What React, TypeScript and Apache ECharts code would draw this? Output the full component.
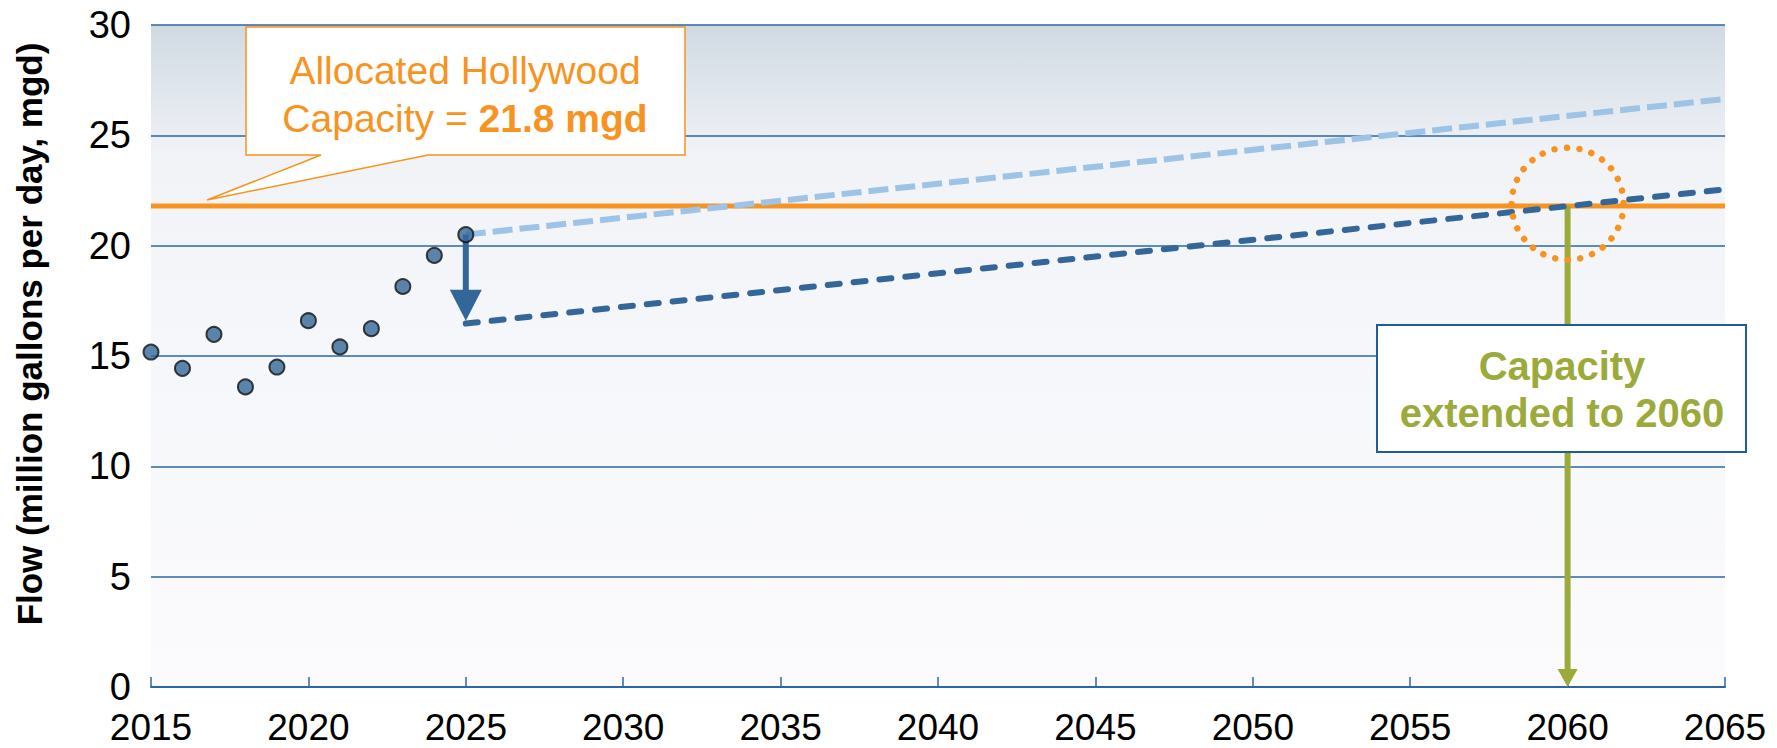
import React, { useEffect, useRef } from "react";
import * as echarts from "echarts";

// ---- data ----
const years = [2015, 2016, 2017, 2018, 2019, 2020, 2021, 2022, 2023, 2024, 2025];
const flows = [15.18, 14.44, 15.98, 13.6, 14.5, 16.6, 15.41, 16.24, 18.15, 19.56, 20.5];
const capacityYears = [2015, 2065];
const capacityValue = 21.8;
const projYears = [2025, 2065];
const highProjection = [20.5, 26.65];
const lowProjection = [16.47, 22.55];
const reductionArrow = [2025, 20.5, 16.6]; // year, from, to
const extensionArrow = [2060, 21.8, 0]; // year, from, to
const crossingPoint = [2060, 21.9];
const xTicks = { min: 2015, max: 2065, interval: 5 };
const yTicks = { min: 0, max: 30, interval: 5 };

const FONT = "'Liberation Sans', Arial, Helvetica, sans-serif";
const ORANGE = "#F7931E";
const DARK_BLUE = "#336699";
const LIGHT_BLUE = "#9DC3E6";
const GREEN = "#9BAA3B";
const GRID_BLUE = "#2A67A5";

function arrowRenderer(color: string, width: number, headW: number, headL: number) {
  return (params: any, api: any) => {
    const x = api.value(0);
    const p1 = api.coord([x, api.value(1)]);
    const p2 = api.coord([x, api.value(2)]);
    return {
      type: "group",
      children: [
        {
          type: "line",
          shape: { x1: p1[0], y1: p1[1], x2: p2[0], y2: p2[1] - headL + 1 },
          style: { stroke: color, lineWidth: width },
        },
        {
          type: "polygon",
          shape: {
            points: [
              [p2[0] - headW / 2, p2[1] - headL],
              [p2[0] + headW / 2, p2[1] - headL],
              [p2[0], p2[1]],
            ],
          },
          style: { fill: color },
        },
      ],
    };
  };
}

export default function App() {
  const ref = useRef<HTMLDivElement>(null);

  useEffect(() => {
    if (!ref.current) return;
    const chart = echarts.init(ref.current, null, { renderer: "svg" });
    const option: any = {
      animation: false,
      backgroundColor: "#ffffff",
      grid: {
        left: 151,
        right: 52,
        top: 25,
        bottom: 61,
        show: true,
        borderWidth: 0,
        backgroundColor: new echarts.graphic.LinearGradient(0, 0, 0, 1, [
          { offset: 0, color: "#D0D9E2" },
          { offset: 0.1, color: "#E0E6ED" },
          { offset: 0.2, color: "#F1F3F7" },
          { offset: 0.5, color: "#F6F7FA" },
          { offset: 1, color: "#FBFBFD" },
        ]),
      },
      xAxis: {
        type: "value",
        min: xTicks.min,
        max: xTicks.max,
        interval: xTicks.interval,
        axisLine: { show: true, lineStyle: { color: GRID_BLUE, width: 2 } },
        axisTick: { show: true, inside: true, length: 10, lineStyle: { color: GRID_BLUE, width: 1.5 } },
        splitLine: { show: false },
        axisLabel: {
          color: "#000",
          fontSize: 37,
          fontFamily: FONT,
          margin: 22,
          formatter: (v: number) => String(v),
        },
      },
      yAxis: {
        type: "value",
        min: yTicks.min,
        max: yTicks.max,
        interval: yTicks.interval,
        name: "Flow (million gallons per day, mgd)",
        nameLocation: "middle",
        nameGap: 104,
        nameTextStyle: {
          color: "#000",
          fontSize: 35,
          fontWeight: "bold",
          fontFamily: FONT,
          padding: [0, 0, 0, 44],
        },
        axisLine: { show: false },
        axisTick: { show: false },
        splitLine: { show: true, lineStyle: { color: GRID_BLUE, width: 1.5 } },
        axisLabel: { color: "#000", fontSize: 38, fontFamily: FONT, margin: 20 },
      },
      series: [
        {
          type: "line",
          name: "Allocated capacity",
          data: capacityYears.map((y) => [y, capacityValue]),
          symbol: "none",
          lineStyle: { color: ORANGE, width: 5 },
          z: 3,
        },
        {
          type: "line",
          name: "High projection",
          data: projYears.map((y, i) => [y, highProjection[i]]),
          symbol: "none",
          lineStyle: { color: LIGHT_BLUE, width: 6, type: [20, 7], cap: "butt" },
          z: 4,
        },
        {
          type: "line",
          name: "Low projection",
          data: projYears.map((y, i) => [y, lowProjection[i]]),
          symbol: "none",
          lineStyle: { color: DARK_BLUE, width: 6, type: [12, 14], cap: "round" },
          z: 6,
        },
        {
          type: "custom",
          name: "Extension arrow",
          data: [extensionArrow],
          encode: { x: 0, y: [1, 2] },
          renderItem: arrowRenderer(GREEN, 6, 20, 18),
          z: 5,
        },
        {
          type: "custom",
          name: "Reduction arrow",
          data: [reductionArrow],
          encode: { x: 0, y: [1, 2] },
          renderItem: arrowRenderer(DARK_BLUE, 6, 32, 31),
          z: 7,
        },
        {
          type: "custom",
          name: "Crossing",
          data: [crossingPoint],
          encode: { x: 0, y: 1 },
          renderItem: (params: any, api: any) => {
            const c = api.coord([api.value(0), api.value(1)]);
            return {
              type: "circle",
              shape: { cx: c[0], cy: c[1], r: 56 },
              style: {
                fill: "none",
                stroke: ORANGE,
                lineWidth: 6.5,
                lineDash: [0.01, 12.5],
                lineCap: "round",
              },
            };
          },
          z: 8,
        },
        {
          type: "scatter",
          name: "Historical flow",
          data: years.map((y, i) => [y, flows[i]]),
          symbol: "circle",
          symbolSize: 15,
          itemStyle: { color: DARK_BLUE, borderColor: "#111", borderWidth: 2 },
          z: 9,
        },
      ],
      graphic: [
        {
          type: "polygon",
          z: 100,
          shape: {
            points: [
              [246, 27],
              [685, 27],
              [685, 155],
              [428, 155],
              [207, 200],
              [321, 155],
              [246, 155],
            ],
          },
          style: { fill: "#ffffff", stroke: ORANGE, lineWidth: 1.5 },
        },
        {
          type: "text",
          z: 101,
          style: {
            x: 465,
            y: 70,
            text: "Allocated Hollywood",
            fill: ORANGE,
            font: `39px ${FONT}`,
            align: "center",
            verticalAlign: "middle",
          },
        },
        {
          type: "text",
          z: 101,
          style: {
            x: 465,
            y: 118,
            text: "{a|Capacity = }{b|21.8 mgd}",
            align: "center",
            verticalAlign: "middle",
            rich: {
              a: { fill: ORANGE, fontSize: 39, fontFamily: FONT },
              b: { fill: ORANGE, fontSize: 39, fontFamily: FONT, fontWeight: "bold" },
            },
          },
        },
        {
          type: "rect",
          z: 100,
          shape: { x: 1377, y: 325, width: 369, height: 127 },
          style: { fill: "#ffffff", stroke: "#1F5C99", lineWidth: 2 },
        },
        {
          type: "text",
          z: 101,
          style: {
            x: 1562,
            y: 366,
            text: "Capacity",
            fill: GREEN,
            font: `bold 40px ${FONT}`,
            align: "center",
            verticalAlign: "middle",
          },
        },
        {
          type: "text",
          z: 101,
          style: {
            x: 1562,
            y: 413,
            text: "extended to 2060",
            fill: GREEN,
            font: `bold 40px ${FONT}`,
            align: "center",
            verticalAlign: "middle",
          },
        },
      ],
    };
    chart.setOption(option);
    return () => chart.dispose();
  }, []);

  return (
    <div
      ref={ref}
      style={{ position: "fixed", left: 0, top: 0, width: 1777, height: 748, background: "#fff" }}
    />
  );
}
